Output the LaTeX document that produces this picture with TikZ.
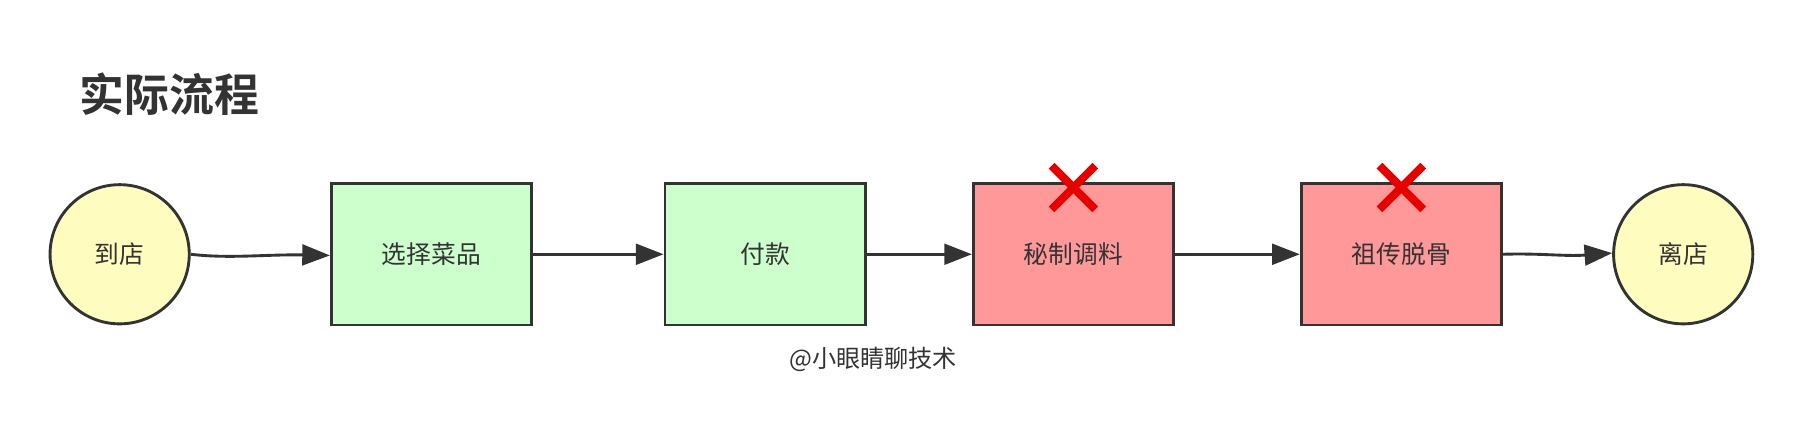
\documentclass[tikz,border=0pt]{standalone}
\usepackage{fontspec}
\setmainfont{Noto Sans CJK SC}[BoldFont={Noto Sans CJK SC Bold}]
\usetikzlibrary{arrows.meta}
\begin{document}
\begin{tikzpicture}[x=1pt,y=-1pt,
  every node/.style={font=\fontsize{21.5}{23}\selectfont, text=black!80},
  circ/.style={draw=black!80, line width=2.5pt, fill=yellow!25, circle, minimum size=121pt, inner sep=0pt},
  okbox/.style={draw=black!80, line width=2.5pt, fill={rgb,255:red,204;green,255;blue,204}, minimum width=174pt, minimum height=123pt},
  badbox/.style={draw=black!80, line width=2.5pt, fill={rgb,255:red,255;green,153;blue,153}, minimum width=174pt, minimum height=123pt},
  conn/.style={draw=black!80, line width=2.5pt, -{Triangle[length=24pt,width=18pt]}},
  xmark/.style={draw=red!90!black, line width=7pt}]
\useasboundingbox (0,0) rectangle (1568,388);
\node[font=\fontsize{39}{41}\selectfont\bfseries, anchor=west] (title) at (66,82) {实际流程};
\node[circ] (a) at (104,221) {到店};
\node[okbox] (b) at (375,221) {选择菜品};
\node[okbox] (c) at (665,221) {付款};
\node[badbox] (d) at (933,221) {秘制调料};
\node[badbox] (e) at (1218,221) {祖传脱骨};
\node[circ] (f) at (1463,221) {离店};
\node[font=\fontsize{21}{23}\selectfont] (w) at (759,312) {@小眼睛聊技术};
\draw[conn] (a.east) .. controls (200,225) and (230,221) .. ([yshift=-1pt]b.west);
\draw[conn] (b) -- (c);
\draw[conn] (c) -- (d);
\draw[conn] (d) -- (e);
\draw[conn] (e.east) .. controls (1340,220) and (1360,223) .. ([yshift=1pt]f.west);
\coordinate (x1) at (933,163);
\coordinate (x2) at (1218,163);
\foreach \p in {x1,x2}{
  \draw[xmark] ([shift={(-19,-19)}]\p) -- ([shift={(19,19)}]\p);
  \draw[xmark] ([shift={(-19,19)}]\p) -- ([shift={(19,-19)}]\p);
}
\end{tikzpicture}
\end{document}
